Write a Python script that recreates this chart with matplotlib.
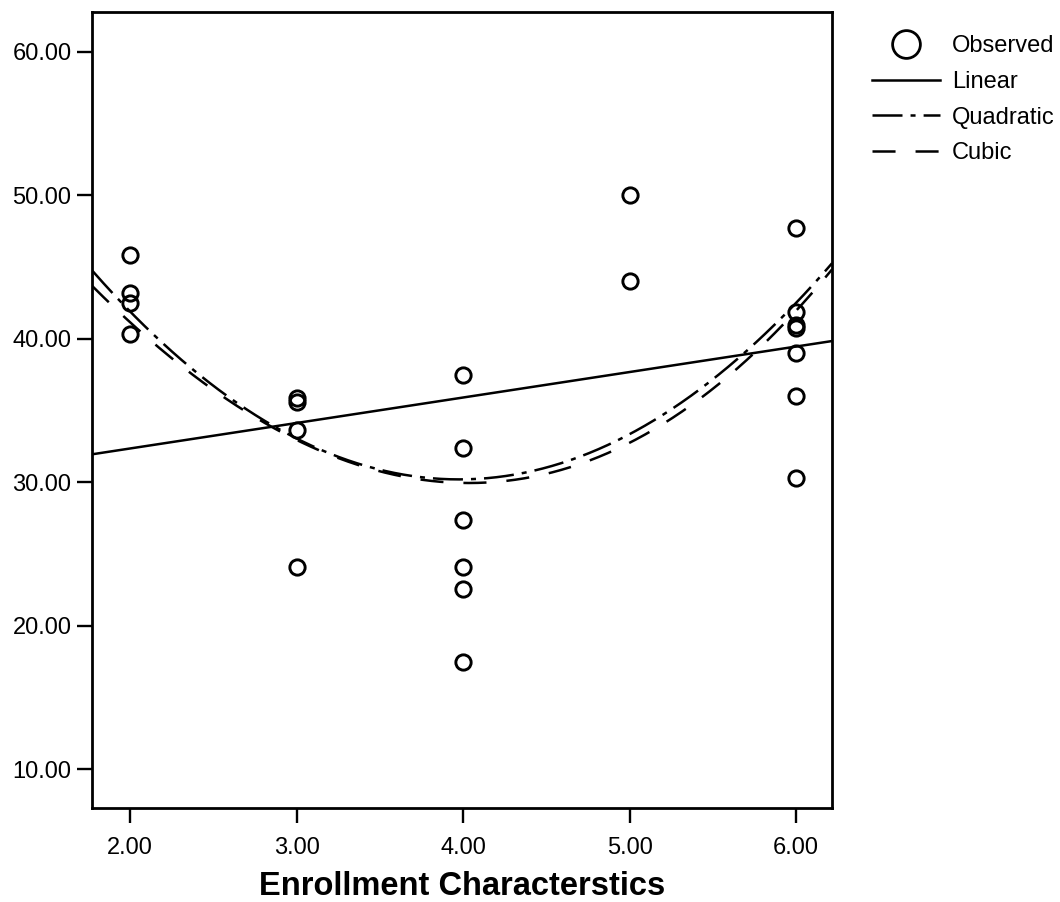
import numpy as np
import matplotlib
matplotlib.use("Agg")
import matplotlib.pyplot as plt
from matplotlib.lines import Line2D

plt.rcParams['font.family'] = ['Liberation Sans', 'DejaVu Sans']
plt.rcParams['lines.scale_dashes'] = False

# ---- data ----
x_obs = [2, 2, 2, 2,
         3, 3, 3, 3,
         4, 4, 4, 4, 4, 4,
         5, 5,
         6, 6, 6, 6, 6, 6, 6]
y_obs = [45.83, 43.17, 42.47, 40.31,
         35.87, 35.60, 33.61, 24.12,
         37.47, 32.41, 27.37, 24.08, 22.54, 17.50,
         50.02, 44.02,
         47.70, 41.88, 40.96, 40.73, 38.99, 36.01, 30.28]

# fitted model coefficients (highest power first)
linear_coef = [1.776, 28.8]
quadratic_coef = [3.0, -23.85, 77.6]
cubic_coef = [0.1, 1.7, -18.6, 70.75]

x_ticks = [2, 3, 4, 5, 6]
y_ticks = [10, 20, 30, 40, 50, 60]
x_label = "Enrollment Characterstics"
legend_labels = ["Observed", "Linear", "Quadratic", "Cubic"]

# ---- figure ----
fig = plt.figure(figsize=(10.6, 9.02), dpi=100)
ax = fig.add_axes([0.0871, 0.1039, 0.6978, 0.8825])
xlim = (1.7734, 6.2155)
ylim = (7.28, 62.75)
ax.set_xlim(*xlim)
ax.set_ylim(*ylim)

xf = np.linspace(xlim[0], xlim[1], 400)
lw = 1.8
ax.plot(x_obs, y_obs, ls='none', marker='o', ms=11, mfc='none',
        mec='black', mew=2.1, zorder=3)
ax.plot(xf, np.polyval(linear_coef, xf), color='black', lw=lw, ls='-')
ax.plot(xf, np.polyval(quadratic_coef, xf), color='black', lw=lw,
        ls=(0, (21.6, 5.8, 3.6, 5.8)))
ax.plot(xf, np.polyval(cubic_coef, xf), color='black', lw=lw,
        ls=(0, (16.6, 14.4)))

ax.set_xticks(x_ticks)
ax.set_yticks(y_ticks)
ax.set_xticklabels([f"{v:.2f}" for v in x_ticks])
ax.set_yticklabels([f"{v:.2f}" for v in y_ticks])
ax.tick_params(direction='out', length=11, width=1.7, labelsize=17,
               top=False, right=False)
ax.tick_params(axis='x', pad=10)
ax.tick_params(axis='y', pad=4)
for s in ax.spines.values():
    s.set_linewidth(2.0)
ax.set_xlabel(x_label, fontsize=23.5, fontweight='bold', labelpad=8)

handles = [
    Line2D([], [], ls='none', marker='o', ms=20, mfc='none', mec='black', mew=2.0),
    Line2D([], [], color='black', lw=lw, ls='-'),
    Line2D([], [], color='black', lw=lw, ls=(0, (21.6, 5.8, 3.6, 5.8))),
    Line2D([], [], color='black', lw=lw, ls=(0, (16.6, 14.4))),
]
fig.legend(handles, legend_labels, loc='upper left',
           bbox_to_anchor=(0.8224, 0.961), frameon=False, fontsize=17,
           handlelength=2.9, handletextpad=0.5, labelspacing=0.58,
           borderaxespad=0, borderpad=0)

fig.savefig("out.png", dpi=100)
